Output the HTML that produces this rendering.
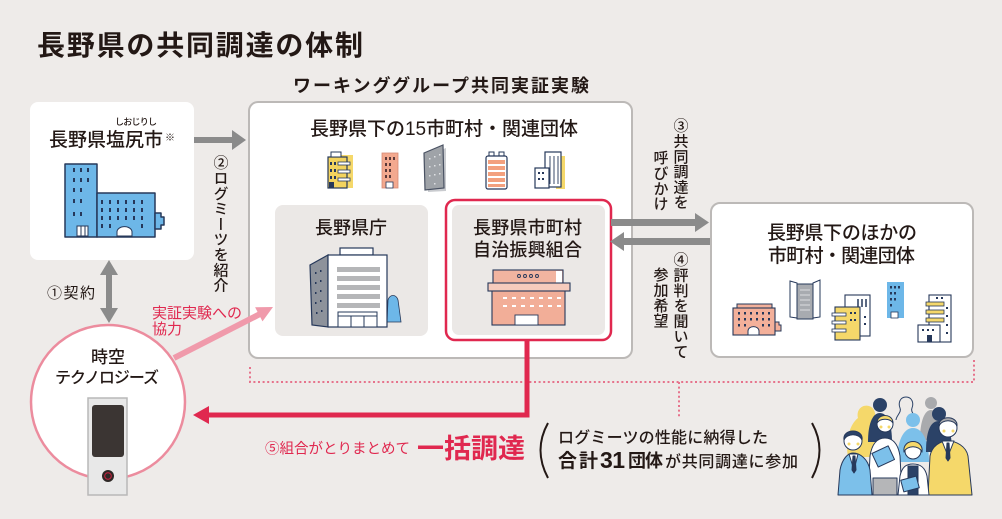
<!DOCTYPE html>
<html><head><meta charset="utf-8">
<style>
html,body{margin:0;padding:0;background:#eeebe9;}
body{width:1002px;height:519px;position:relative;overflow:hidden;font-family:"Liberation Sans","Noto Sans CJK JP",sans-serif;color:#231815;}
svg{position:absolute;left:0;top:0;}
svg text{font-family:"Liberation Sans","Noto Sans CJK JP",sans-serif;fill:#231815;}
.v{position:absolute;writing-mode:vertical-rl;font-size:15px;line-height:15px;letter-spacing:0.3px;white-space:nowrap;font-family:"Liberation Sans","Noto Sans CJK JP",sans-serif;color:#231815;font-weight:500;}
</style></head><body>
<svg width="1002" height="519" viewBox="0 0 1002 519">
<rect x="0" y="0" width="1002" height="519" fill="#eeebe9"/>

<!-- Title -->
<text x="37" y="55" font-size="28" font-weight="700" textLength="326" lengthAdjust="spacing">長野県の共同調達の体制</text>
<text x="293" y="92" font-size="18" font-weight="700" textLength="296" lengthAdjust="spacing">ワーキンググループ共同実証実験</text>

<!-- dotted pink line -->
<path d="M250 367 V382 H974 V358 M679 382 V417" fill="none" stroke="#e6738c" stroke-width="2" stroke-dasharray="2 2.6"/>

<!-- Left box -->
<rect x="30" y="102" width="164" height="158" rx="8" fill="#fff"/>
<text x="115" y="125" font-size="9" font-weight="500" textLength="42" lengthAdjust="spacing">しおじりし</text>
<text x="49" y="146" font-size="19" font-weight="500" textLength="114" lengthAdjust="spacing">長野県塩尻市</text>
<text x="165" y="141" font-size="10" font-weight="700">※</text>
<!-- blue building -->
<g stroke="#26385a" stroke-width="1.5" stroke-linejoin="round" fill="#6db7e8">
<rect x="65" y="164" width="32" height="73"/>
<rect x="97" y="193" width="58" height="44"/>
<path d="M155 213 h6 v4 h3 v8 h-3 v4 h-6z"/>
</g>
<g fill="#26385a">
<rect x="73" y="168" width="2" height="4"/><rect x="80" y="168" width="2" height="4"/><rect x="87" y="168" width="2" height="4"/>
<rect x="73" y="178" width="2" height="4"/><rect x="80" y="178" width="2" height="4"/><rect x="87" y="178" width="2" height="4"/>
<rect x="73" y="188" width="2" height="4"/><rect x="80" y="188" width="2" height="4"/>
<rect x="73" y="199" width="2" height="4"/><rect x="80" y="199" width="2" height="4"/>
<rect x="73" y="212" width="2" height="4"/><rect x="80" y="212" width="2" height="4"/>
</g>
<g fill="#26385a">
<rect x="101" y="200" width="2" height="4"/><rect x="109" y="200" width="2" height="4"/><rect x="117" y="200" width="2" height="4"/><rect x="125" y="200" width="2" height="4"/><rect x="133" y="200" width="2" height="4"/><rect x="141" y="200" width="2" height="4"/>
<rect x="101" y="208" width="2" height="4"/><rect x="109" y="208" width="2" height="4"/><rect x="117" y="208" width="2" height="4"/><rect x="125" y="208" width="2" height="4"/><rect x="133" y="208" width="2" height="4"/><rect x="141" y="208" width="2" height="4"/>
<rect x="101" y="216" width="2" height="4"/><rect x="109" y="216" width="2" height="4"/><rect x="117" y="216" width="2" height="4"/><rect x="125" y="216" width="2" height="4"/><rect x="133" y="216" width="2" height="4"/><rect x="141" y="216" width="2" height="4"/>
<rect x="101" y="224" width="2" height="4"/><rect x="109" y="224" width="2" height="4"/><rect x="141" y="224" width="2" height="4"/>
</g>
<rect x="77" y="226" width="11" height="10" fill="#fff" stroke="#26385a" stroke-width="1"/>
<path d="M81 226 v10 M85 226 v10" stroke="#26385a" stroke-width="1"/>
<path d="M117 236 v-4 a7 5 0 0 1 15 0 v4z" fill="#fff" stroke="#26385a" stroke-width="1"/>

<!-- gray arrow to big box -->
<rect x="194" y="137" width="39" height="6" fill="#8b8b8b"/>
<polygon points="232,130 246,140 232,150" fill="#8b8b8b"/>

<!-- Big box -->
<rect x="249" y="102" width="383" height="256" rx="9" fill="#fff" stroke="#bcb9b7" stroke-width="2"/>
<text x="310" y="135" font-size="19" font-weight="500" textLength="268" lengthAdjust="spacing">長野県下の15市町村・関連団体</text>

<!-- B1 yellow -->
<rect x="333" y="155" width="20" height="33" fill="#f5d86a"/>
<rect x="328" y="157" width="19" height="31" fill="#f3d35e" stroke="#26385a" stroke-width="1.2"/>
<rect x="331" y="152" width="10" height="5" fill="#fff" stroke="#26385a" stroke-width="1"/>
<g fill="#fff" stroke="#26385a" stroke-width="0.8">
<rect x="338" y="162" width="12" height="3"/><rect x="338" y="170" width="12" height="3"/><rect x="338" y="178" width="12" height="3"/>
</g>
<g fill="#26385a"><rect x="330" y="162" width="2" height="3"/><rect x="334" y="162" width="2" height="3"/><rect x="330" y="169" width="2" height="3"/><rect x="334" y="169" width="2" height="3"/><rect x="330" y="176" width="2" height="3"/><rect x="334" y="176" width="2" height="3"/><rect x="329" y="182" width="5" height="6"/></g>
<!-- B2 pink narrow -->
<rect x="382" y="153" width="16" height="35" fill="#f3a98f" stroke="#d58a75" stroke-width="0.8"/>
<g fill="#5b3a3a"><rect x="385" y="157" width="2" height="3"/><rect x="389" y="157" width="2" height="3"/><rect x="393" y="157" width="2" height="3"/><rect x="385" y="163" width="2" height="3"/><rect x="389" y="163" width="2" height="3"/><rect x="385" y="169" width="2" height="3"/><rect x="389" y="169" width="2" height="3"/><rect x="385" y="175" width="2" height="3"/><rect x="389" y="175" width="2" height="3"/></g>
<rect x="386" y="182" width="7" height="6" fill="#fff" stroke="#26385a" stroke-width="0.8"/>
<!-- B3 gray slanted -->
<polygon points="427,156 446,148 446,191 428,192" fill="#c9cbcf"/>
<polygon points="424,153 443,145 444,188 425,190" fill="#9fa3a8" stroke="#4a5263" stroke-width="1.2"/>
<g fill="#dfe1e4"><rect x="429" y="158" width="1.5" height="1.5"/><rect x="434" y="156" width="1.5" height="1.5"/><rect x="439" y="154" width="1.5" height="1.5"/><rect x="429" y="166" width="1.5" height="1.5"/><rect x="434" y="165" width="1.5" height="1.5"/><rect x="439" y="164" width="1.5" height="1.5"/><rect x="429" y="175" width="1.5" height="1.5"/><rect x="434" y="174" width="1.5" height="1.5"/><rect x="439" y="173" width="1.5" height="1.5"/><rect x="434" y="183" width="1.5" height="1.5"/></g>
<!-- B4 orange stripes -->
<rect x="489" y="152" width="5" height="5" fill="#fff" stroke="#26385a" stroke-width="1"/>
<rect x="499" y="152" width="5" height="5" fill="#fff" stroke="#26385a" stroke-width="1"/>
<rect x="486" y="156" width="21" height="33" rx="2" fill="#fff" stroke="#26385a" stroke-width="1.2"/>
<g fill="#f3a07e"><rect x="488" y="160" width="17" height="4"/><rect x="488" y="166" width="17" height="4"/><rect x="488" y="172" width="17" height="4"/><rect x="488" y="178" width="17" height="4"/><rect x="488" y="184" width="17" height="3"/></g>
<!-- B5 -->
<rect x="556" y="156" width="9" height="33" fill="#f5d86a"/>
<rect x="545" y="152" width="16" height="35" fill="#fff" stroke="#26385a" stroke-width="1.2"/>
<path d="M550 156 v28 M554 156 v28 M558 156 v28" stroke="#26385a" stroke-width="0.9"/>
<rect x="535" y="168" width="14" height="20" fill="#fff" stroke="#26385a" stroke-width="1.2"/>
<g fill="#26385a"><rect x="538" y="172" width="2" height="2"/><rect x="542" y="172" width="2" height="2"/><rect x="538" y="178" width="2" height="2"/><rect x="542" y="178" width="2" height="2"/></g>

<!-- 県庁 box -->
<rect x="275" y="205" width="153" height="131" rx="8" fill="#ebe8e6"/>
<text x="315" y="234" font-size="18" font-weight="500" textLength="72" lengthAdjust="spacing">長野県庁</text>
<polygon points="310,265 328,255 328,327 312,325" fill="#8d929b" stroke="#26385a" stroke-width="1.2"/>
<g fill="#26385a"><rect x="315" y="272" width="1.5" height="2"/><rect x="320" y="270" width="1.5" height="2"/><rect x="315" y="282" width="1.5" height="2"/><rect x="320" y="280" width="1.5" height="2"/><rect x="315" y="292" width="1.5" height="2"/><rect x="320" y="290" width="1.5" height="2"/><rect x="315" y="302" width="1.5" height="2"/><rect x="320" y="300" width="1.5" height="2"/><rect x="316" y="312" width="1.5" height="2"/><rect x="321" y="310" width="1.5" height="2"/></g>
<rect x="340" y="248" width="33" height="7" fill="#fff" stroke="#26385a" stroke-width="1.2"/>
<path d="M388 300 c2 -6 8 -6 10 0 l3 22 h-14z" fill="#6db7e8" stroke="#26385a" stroke-width="0.8"/>
<rect x="328" y="255" width="59" height="72" fill="#fff" stroke="#26385a" stroke-width="1.2"/>
<g fill="#b5b6b8"><rect x="337" y="267" width="43" height="5"/><rect x="337" y="276" width="43" height="5"/><rect x="337" y="285" width="43" height="5"/><rect x="337" y="294" width="43" height="5"/><rect x="337" y="303" width="43" height="5"/></g>
<rect x="338" y="312" width="39" height="15" fill="#fff" stroke="#26385a" stroke-width="1"/>
<path d="M338 316 h39 M351 316 v11 M364 316 v11" stroke="#26385a" stroke-width="1"/>

<!-- red box -->
<rect x="446" y="200" width="165" height="140" rx="9" fill="#fff" stroke="#e0284f" stroke-width="2.5"/>
<rect x="452" y="205" width="153" height="130" rx="7" fill="#ebe8e6"/>
<text x="473" y="234" font-size="18" font-weight="500" textLength="109" lengthAdjust="spacing">長野県市町村</text>
<text x="473" y="256" font-size="18" font-weight="500" textLength="109" lengthAdjust="spacing">自治振興組合</text>
<rect x="493" y="270" width="70" height="14" fill="#f2b4a0" stroke="#26385a" stroke-width="1.1"/>
<rect x="556" y="271" width="6" height="12" fill="#fff"/>
<g fill="none" stroke="#26385a" stroke-width="0.9"><circle cx="519" cy="276" r="1.5"/><circle cx="525" cy="276" r="1.5"/><circle cx="531" cy="276" r="1.5"/><circle cx="537" cy="276" r="1.5"/></g>
<rect x="492" y="290" width="73" height="35" fill="#f2ae98" stroke="#26385a" stroke-width="1.1"/>
<rect x="488" y="283" width="82" height="8" fill="#f6cbbd" stroke="#26385a" stroke-width="1.1"/>
<g fill="#fff"><rect x="503" y="297" width="4" height="2"/><rect x="512" y="297" width="4" height="2"/><rect x="521" y="297" width="4" height="2"/><rect x="530" y="297" width="4" height="2"/><rect x="539" y="297" width="4" height="2"/><rect x="548" y="297" width="4" height="2"/><rect x="557" y="297" width="4" height="2"/>
<rect x="503" y="305" width="4" height="2"/><rect x="512" y="305" width="4" height="2"/><rect x="521" y="305" width="4" height="2"/><rect x="530" y="305" width="4" height="2"/><rect x="539" y="305" width="4" height="2"/><rect x="548" y="305" width="4" height="2"/><rect x="557" y="305" width="4" height="2"/></g>
<rect x="515" y="315" width="23" height="10" fill="#fff" stroke="#26385a" stroke-width="0.9"/>

<!-- arrows between red box and right box -->
<rect x="611" y="219" width="86" height="7" fill="#8b8b8b"/>
<polygon points="695,213 709,222.5 695,232" fill="#8b8b8b"/>
<rect x="622" y="238" width="89" height="7" fill="#8b8b8b"/>
<polygon points="624,232 610,241.5 624,251" fill="#8b8b8b"/>

<!-- Right box -->
<rect x="711" y="203" width="262" height="154" rx="9" fill="#fff" stroke="#bcb9b7" stroke-width="2"/>
<text x="767" y="239" font-size="19" font-weight="500" textLength="150" lengthAdjust="spacing">長野県下のほかの</text>
<text x="768" y="262" font-size="19" font-weight="500" textLength="147" lengthAdjust="spacing">市町村・関連団体</text>
<!-- R1 pink -->
<rect x="737" y="304" width="35" height="5" fill="#f3b09a" stroke="#26385a" stroke-width="1"/>
<path d="M775 322 h4 v3 h2 v6 h-6z" fill="#f3b09a" stroke="#26385a" stroke-width="1"/>
<rect x="733" y="308" width="42" height="27" fill="#f3b09a" stroke="#26385a" stroke-width="1.1"/>
<g fill="#26385a"><rect x="738" y="312" width="2" height="2.5"/><rect x="744" y="312" width="2" height="2.5"/><rect x="750" y="312" width="2" height="2.5"/><rect x="756" y="312" width="2" height="2.5"/><rect x="762" y="312" width="2" height="2.5"/><rect x="768" y="312" width="2" height="2.5"/>
<rect x="738" y="318" width="2" height="2.5"/><rect x="744" y="318" width="2" height="2.5"/><rect x="750" y="318" width="2" height="2.5"/><rect x="756" y="318" width="2" height="2.5"/><rect x="762" y="318" width="2" height="2.5"/><rect x="768" y="318" width="2" height="2.5"/>
<rect x="738" y="324" width="2" height="2.5"/><rect x="744" y="324" width="2" height="2.5"/><rect x="762" y="324" width="2" height="2.5"/><rect x="768" y="324" width="2" height="2.5"/></g>
<path d="M748 335 v-4 a5 4 0 0 1 11 0 v4z" fill="#fff" stroke="#26385a" stroke-width="1"/>
<!-- R2 gray with wings -->
<rect x="797" y="284" width="16" height="35" fill="#a8abb0" stroke="#26385a" stroke-width="1"/>
<path d="M800 290 h10 M800 295 h10 M800 300 h10 M800 305 h10 M800 310 h10" stroke="#dcdde0" stroke-width="1"/>
<polygon points="790,281 797,283 797,318 790,317" fill="#fff" stroke="#26385a" stroke-width="1"/>
<polygon points="813,283 820,280 820,317 813,318" fill="#fff" stroke="#26385a" stroke-width="1"/>
<!-- R3 -->
<rect x="845" y="295" width="25" height="41" fill="#fff" stroke="#26385a" stroke-width="1.1"/>
<path d="M858 299 v8 M862 299 v8 M866 299 v8" stroke="#26385a" stroke-width="1.5"/>
<rect x="835" y="307" width="25" height="33" fill="#f5d86a" stroke="#26385a" stroke-width="1.1"/>
<g fill="#fff" stroke="#26385a" stroke-width="0.8"><rect x="832" y="313" width="14" height="3"/><rect x="832" y="321" width="14" height="3"/><rect x="832" y="329" width="14" height="3"/></g>
<g fill="#26385a"><rect x="850" y="312" width="2" height="2"/><rect x="854" y="312" width="2" height="2"/><rect x="850" y="319" width="2" height="2"/><rect x="854" y="319" width="2" height="2"/><rect x="864" y="316" width="2" height="2"/><rect x="864" y="323" width="2" height="2"/></g>
<!-- R4 blue -->
<rect x="887" y="282" width="17" height="36" fill="#6db7e8"/>
<g fill="#26385a"><rect x="890" y="286" width="2" height="2.5"/><rect x="894" y="286" width="2" height="2.5"/><rect x="898" y="286" width="2" height="2.5"/><rect x="890" y="292" width="2" height="2.5"/><rect x="894" y="292" width="2" height="2.5"/><rect x="890" y="298" width="2" height="2.5"/><rect x="894" y="298" width="2" height="2.5"/><rect x="890" y="304" width="2" height="2.5"/></g>
<rect x="891" y="312" width="7" height="6" fill="#fff" stroke="#26385a" stroke-width="0.8"/>
<!-- R5 -->
<rect x="929" y="295" width="22" height="47" fill="#fff" stroke="#26385a" stroke-width="1.1"/>
<g fill="#f5d86a" stroke="#26385a" stroke-width="0.8"><rect x="926" y="302" width="18" height="4"/><rect x="926" y="310" width="18" height="4"/><rect x="926" y="318" width="18" height="4"/></g>
<g fill="#26385a"><rect x="936" y="297" width="2" height="2"/><rect x="941" y="297" width="2" height="2"/><rect x="946" y="307" width="2" height="2"/><rect x="946" y="315" width="2" height="2"/><rect x="946" y="324" width="2" height="2"/><rect x="946" y="332" width="2" height="2"/></g>
<rect x="918" y="325" width="22" height="17" fill="#fff" stroke="#26385a" stroke-width="1.1"/>
<g fill="#26385a"><rect x="922" y="329" width="2" height="2"/><rect x="927" y="329" width="2" height="2"/><rect x="932" y="329" width="2" height="2"/><rect x="927" y="335" width="5" height="7"/></g>

<!-- gray double arrow -->
<rect x="106" y="273" width="6" height="36" fill="#8b8b8b"/>
<polygon points="109,260 118,275 100,275" fill="#8b8b8b"/>
<polygon points="109,323 118,308 100,308" fill="#8b8b8b"/>
<text x="47" y="298" font-size="15" textLength="48" lengthAdjust="spacing">①契約</text>

<!-- pink arrow -->
<line x1="174" y1="358" x2="260" y2="314" stroke="#f09aab" stroke-width="6"/>
<polygon points="273,307 262.5,321.4 255.1,307.2" fill="#f09aab"/>
<text x="152" y="318" font-size="15" style="fill:#e0284f" textLength="90" lengthAdjust="spacing">実証実験への</text>
<text x="152" y="334" font-size="15" style="fill:#e0284f" textLength="30" lengthAdjust="spacing">協力</text>

<!-- circle -->
<circle cx="108" cy="402" r="77" fill="#fff" stroke="#ec8c9e" stroke-width="2.5"/>
<text x="108" y="363" font-size="17" font-weight="500" text-anchor="middle">時空</text>
<text x="55" y="383" font-size="16" font-weight="500" textLength="104" lengthAdjust="spacing">テクノロジーズ</text>
<rect x="88" y="398" width="39" height="97" fill="#e8e8e8" stroke="#b8b8b8" stroke-width="1.5"/>
<rect x="92" y="405" width="32" height="52" rx="3" fill="#3b3533"/>
<circle cx="108" cy="476" r="6" fill="#2e2826"/>
<circle cx="108" cy="476" r="3.3" fill="none" stroke="#d02040" stroke-width="1"/>

<!-- red connector -->
<path d="M527 340 V415 H207" fill="none" stroke="#e0284f" stroke-width="5"/>
<polygon points="193,415 209,406 209,424" fill="#e0284f"/>
<text x="265" y="453.5" font-size="14.5" style="fill:#e0284f" textLength="145" lengthAdjust="spacing">⑤組合がとりまとめて</text>
<text x="417" y="458" font-size="27" font-weight="700" style="fill:#e0284f" textLength="108" lengthAdjust="spacing">一括調達</text>

<!-- paren text -->
<path d="M548 423 Q533 450 548 478" fill="none" stroke="#231815" stroke-width="2"/>
<path d="M812 423 Q827 450 812 478" fill="none" stroke="#231815" stroke-width="2"/>
<text x="558" y="443" font-size="16" font-weight="500" textLength="210" lengthAdjust="spacing">ログミーツの性能に納得した</text>
<text x="558" y="467" font-size="19" font-weight="700" textLength="40" lengthAdjust="spacing">合計</text>
<text x="600" y="468" font-size="23" font-weight="700" textLength="25" lengthAdjust="spacing">31</text>
<text x="628" y="467" font-size="18" font-weight="700" textLength="35" lengthAdjust="spacing">団体</text>
<text x="665" y="467" font-size="16" font-weight="500" textLength="133" lengthAdjust="spacing">が共同調達に参加</text>

<!-- people -->
<g stroke-linejoin="round">
<path d="M848 457 C845 440 850 424 858 418 C856 410 862 404 869 406 C876 408 877 418 873 424 C879 432 874 447 872 457 Z" fill="#f5d86a"/>
<circle cx="880" cy="405" r="7" fill="#2b4267"/>
<path d="M868 442 C868 425 872 413 880 413 C888 413 892 425 892 442 Z" fill="#2b4267"/>
<path d="M906 397 c-6 0 -8 6 -6 11 c2 4 -4 8 -4 12 M906 397 c6 0 8 6 6 11 c-2 4 4 8 4 12" fill="none" stroke="#2b4267" stroke-width="1"/>
<circle cx="931" cy="403" r="6" fill="#a9aaad"/>
<path d="M920 440 C920 420 925 410 931 410 C937 410 942 420 942 440Z" fill="#a9aaad"/>
<circle cx="913" cy="420" r="7" fill="#7cc0ea"/>
<path d="M897 462 C897 442 903 428 913 428 C923 428 929 442 929 462Z" fill="#7cc0ea"/>
<circle cx="939" cy="414" r="7" fill="#2b4267"/>
<path d="M926 452 C926 432 930 421 939 421 C948 421 952 432 952 452Z" fill="#2b4267"/>
</g>
<g stroke="#26385a" stroke-width="1" stroke-linejoin="round">
<!-- woman center -->
<path d="M868 495 L870 456 C872 443 878 438 885 438 C892 438 898 443 900 456 L902 495Z" fill="#fff"/>
<rect x="873" y="478" width="24" height="17" fill="#b5b6b8"/>
<rect x="874" y="449" width="18" height="15" fill="#7cc0ea" transform="rotate(-25 883 456)"/>
<circle cx="885" cy="424" r="8" fill="#fff"/>
<path d="M877 423 C877 413 893 413 893 423 C890 418 880 418 877 423Z" fill="#f5d86a"/>
<!-- man right -->
<path d="M928 495 L930 456 C932 446 940 441 948 441 C956 441 966 446 968 456 L972 495Z" fill="#f5d86a"/>
<path d="M942 441 L948 456 L954 441Z" fill="#fff"/>
<path d="M947 443 L949 443 L950 458 L948 461 L946 458Z" fill="#26385a"/>
<circle cx="948" cy="428" r="9" fill="#fff"/>
<path d="M939 426 C938 415 958 415 957 426 C954 419 942 419 939 426Z" fill="#a9aaad"/>
<!-- man left -->
<path d="M838 495 L840 470 C842 459 848 453 853 453 C860 453 868 459 870 470 L872 495Z" fill="#7cc0ea"/>
<path d="M849 454 L854 470 L858 454Z" fill="#fff"/>
<path d="M853 456 L855 456 L856 470 L854 473 L852 470Z" fill="#26385a"/>
<circle cx="853" cy="441" r="9" fill="#fff"/>
<path d="M844 440 C842 428 864 428 862 440 C859 433 847 433 844 440Z" fill="#2b4267"/>
<!-- small woman -->
<path d="M898 495 L900 476 C902 467 906 464 913 464 C920 464 925 467 927 476 L929 495Z" fill="#fff"/>
<rect x="908" y="466" width="10" height="29" fill="#2b4267"/>
<rect x="902" y="478" width="16" height="12" fill="#7cc0ea" transform="rotate(-15 910 484)"/>
<circle cx="913" cy="451" r="8" fill="#fff"/>
<path d="M904 452 C902 438 924 438 922 452 C919 445 907 445 904 452Z" fill="#f5d86a"/>
</g>
<g fill="#f5d86a"><circle cx="849" cy="444" r="1.5"/><circle cx="858" cy="444" r="1.5"/><circle cx="881" cy="427" r="1.5"/><circle cx="889" cy="427" r="1.5"/><circle cx="944" cy="431" r="1.5"/><circle cx="953" cy="431" r="1.5"/></g>
</svg>

<div class="v" style="left:212.5px;top:155px">②ログミーツを紹介</div>
<div class="v" style="left:672.5px;top:118px">③共同調達を</div>
<div class="v" style="left:652.5px;top:150px">呼びかけ</div>
<div class="v" style="left:672.5px;top:252px">④評判を聞いて</div>
<div class="v" style="left:652.5px;top:267px">参加希望</div>
</body></html>
